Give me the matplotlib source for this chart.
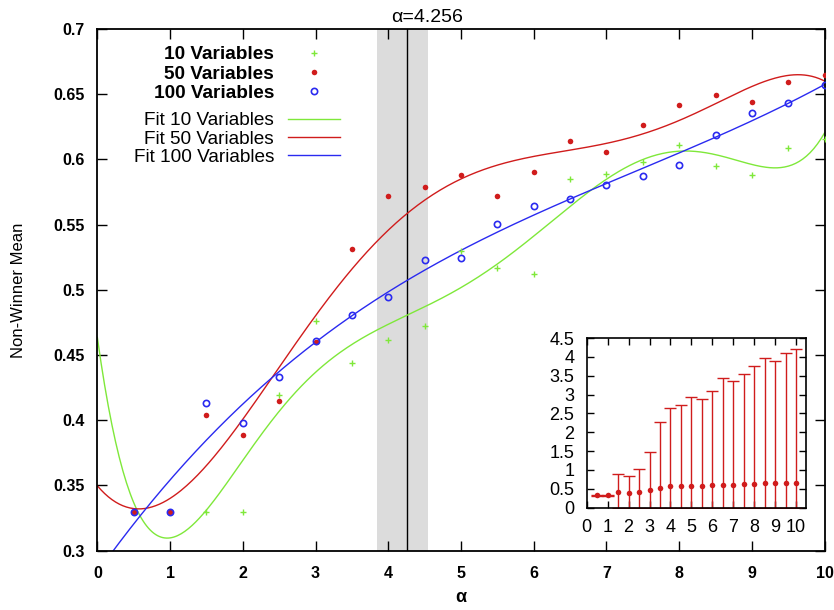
import numpy as np
import matplotlib
matplotlib.use("Agg")
import matplotlib.pyplot as plt
from matplotlib.ticker import FuncFormatter

# alpha values and mean non-winner counts for each problem size
alpha = [0.5, 1.0, 1.5, 2.0, 2.5, 3.0, 3.5, 4.0, 4.5, 5.0,
         5.5, 6.0, 6.5, 7.0, 7.5, 8.0, 8.5, 9.0, 9.5, 10.0]
v10 = [0.33, 0.33, 0.33, 0.33, 0.419, 0.476, 0.444, 0.4615, 0.4725, 0.530,
       0.5165, 0.5124, 0.585, 0.5886, 0.5977, 0.6113, 0.595, 0.5883, 0.6085, 0.616]
v50 = [0.33, 0.33, 0.404, 0.389, 0.415, 0.460, 0.531, 0.572, 0.579, 0.588,
       0.572, 0.590, 0.614, 0.606, 0.626, 0.6415, 0.649, 0.644, 0.659, 0.665]
v100 = [0.33, 0.33, 0.4135, 0.398, 0.433, 0.4607, 0.481, 0.4947, 0.523, 0.5244,
        0.5507, 0.564, 0.570, 0.5806, 0.587, 0.5957, 0.619, 0.6356, 0.6433, 0.657]

# inset: spread of the 50-variable runs (lowest / highest value)
low50 = [0.32, 0.32, 0, 0, 0, 0, 0, 0, 0, 0,
         0, 0, 0, 0, 0, 0, 0, 0, 0, 0]
high50 = [0.34, 0.34, 0.89, 0.84, 1.02, 1.49, 2.26, 2.64, 2.72, 2.93,
          2.87, 3.09, 3.44, 3.37, 3.54, 3.75, 3.96, 3.88, 4.11, 4.21]

alpha_c = 4.256
band = (3.85, 4.55)

# polynomial degree used for each fitted curve
fit_deg = {'10': 7, '50': 6, '100': 3}

GREEN = '#7fe83a'
RED = '#d01c1c'
BLUE = '#2a2af0'

plt.rcParams['font.family'] = ['Liberation Sans', 'DejaVu Sans']

fig = plt.figure(figsize=(8.34, 6.10), dpi=100)
ax = fig.add_axes([0.1167, 0.0972, 0.8721, 0.8553])

x = np.array(alpha)
xx = np.linspace(0, 10, 400)

ax.axvspan(band[0], band[1], color='#dcdcdc', lw=0, zorder=0)
ax.axvline(alpha_c, color='black', lw=1.0, zorder=1)

pts10, = ax.plot(x, v10, ls='none', marker='+', ms=5, mew=1.0, color=GREEN, zorder=3)
pts50, = ax.plot(x, v50, ls='none', marker='o', ms=4, mew=0, color=RED, zorder=3)
pts100, = ax.plot(x, v100, ls='none', marker='o', ms=4.5, mfc='none', mew=1.2, color=BLUE, zorder=4)

fits = []
for key, vals, col in [('10', v10, GREEN), ('50', v50, RED), ('100', v100, BLUE)]:
    p = np.polyfit(x, vals, fit_deg[key])
    ln, = ax.plot(xx, np.polyval(p, xx), color=col, lw=1.0, zorder=2)
    fits.append(ln)

ax.set_xlim(0, 10)
ax.set_ylim(0.3, 0.7)
ax.set_xticks(range(0, 11))
ax.set_yticks(np.arange(0.3, 0.701, 0.05))
ax.yaxis.set_major_formatter(FuncFormatter(lambda v, p: f'{v:g}'))
ax.tick_params(direction='in', length=7, width=1.0, top=True, right=True, labelsize=11.5)
ax.tick_params(axis='x', pad=11)
ax.tick_params(axis='y', pad=9)
for lab in ax.get_xticklabels() + ax.get_yticklabels():
    lab.set_fontweight('bold')
for s in ax.spines.values():
    s.set_linewidth(1.3)

ax.set_xlabel('α', fontsize=13, fontweight='bold', labelpad=6)
ax.set_ylabel('Non-Winner Mean', fontsize=12, labelpad=20)
ax.text(4.53, 1.013, 'α=4.256', transform=ax.get_xaxis_transform(),
        ha='center', va='baseline', fontsize=14)

fs = 13.7
leg1 = ax.legend([pts10, pts50, pts100], ['10 Variables', '50 Variables', '100 Variables'],
                 markerfirst=False, frameon=False, loc='upper right',
                 bbox_to_anchor=(340 / 834, 1 - 46 / 610), bbox_transform=fig.transFigure,
                 prop=dict(size=fs, weight='bold'), handlelength=2.75, handletextpad=0.72,
                 labelspacing=0.1, borderpad=0, borderaxespad=0)
ax.add_artist(leg1)
ax.legend(fits, ['Fit 10 Variables', 'Fit 50 Variables', 'Fit 100 Variables'],
          markerfirst=False, frameon=False, loc='upper right',
          bbox_to_anchor=(340 / 834, 1 - 112 / 610), bbox_transform=fig.transFigure,
          prop=dict(size=fs), handlelength=2.75, handletextpad=0.72,
          labelspacing=0.05, borderpad=0, borderaxespad=0)

# inset with min/max spread of the 50 variable runs
ins = fig.add_axes([0.7035, 0.1677, 0.2629, 0.2782])
m = np.array(v50)
yerr = [m - np.array(low50), np.array(high50) - m]
ins.errorbar(x, m, yerr=yerr, fmt='none', ecolor=RED,
             elinewidth=1.0, capsize=4, capthick=1.0)
ins.plot(x, m, ls='none', marker='o', ms=4, mew=0, color=RED, zorder=3)
ins.set_xlim(0, 10.47)
ins.set_ylim(0, 4.5)
ins.set_xticks(range(0, 11))
ins.set_yticks(np.arange(0, 4.51, 0.5))
ins.yaxis.set_major_formatter(FuncFormatter(lambda v, p: f'{v:g}'))
ins.tick_params(direction='in', length=5, width=1.0, top=True, right=True, labelsize=13)
ins.tick_params(axis='x', pad=8)
ins.tick_params(axis='y', pad=9)
for s in ins.spines.values():
    s.set_linewidth(1.2)

fig.savefig('out.png', dpi=100)
